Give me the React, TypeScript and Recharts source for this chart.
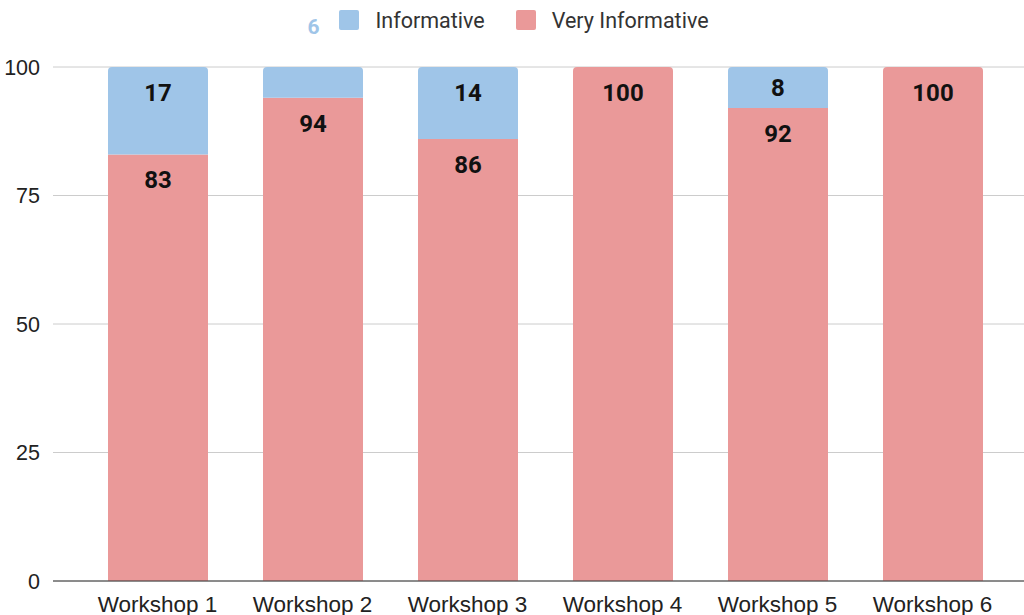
import { BarChart, Bar, XAxis, YAxis, CartesianGrid, Legend, LabelList, Cell } from "recharts";

const workshops = ["Workshop 1", "Workshop 2", "Workshop 3", "Workshop 4", "Workshop 5", "Workshop 6"];
const informative = [17, 6, 14, 0, 8, 0];
const veryInformative = [83, 94, 86, 100, 92, 100];
const yTicks = [0, 25, 50, 75, 100];

const blue = "#9fc5e8";
const pink = "#ea9999";

const data = workshops.map((name, i) => ({
  name,
  informative: informative[i],
  veryInformative: veryInformative[i],
}));

// labels that don't fit in their segment end up next to the legend
const squeezed = informative.filter((v) => v > 0 && v < 7);

function renderLabel(props: any) {
  const { x, y, width, height, value } = props;
  if (!value || height < 34) return null;
  const cy = y + Math.min(26, height / 2);
  return (
    <text
      x={x + width / 2}
      y={cy}
      textAnchor="middle"
      dominantBaseline="central"
      fontFamily="Roboto"
      fontWeight={700}
      fontSize={24}
      fill="#111"
    >
      {value}
    </text>
  );
}

function LegendContent() {
  const item = (color: string, label: string, gap: number) => (
    <div style={{ display: "flex", alignItems: "center", marginRight: gap }}>
      <div style={{ width: 20, height: 20, borderRadius: 2, background: color, marginRight: 16 }} />
      <span style={{ fontSize: 21.5, color: "#333" }}>{label}</span>
    </div>
  );
  return (
    <div
      style={{
        display: "flex",
        justifyContent: "center",
        alignItems: "center",
        height: 40,
        fontFamily: "Roboto, 'Liberation Sans', sans-serif",
        paddingRight: 8,
      }}
    >
      {squeezed.map((v) => (
        <span
          key={v}
          style={{ color: blue, fontWeight: 700, fontSize: 21, marginRight: 20, position: "relative", top: 7 }}
        >
          {v}
        </span>
      ))}
      {item(blue, "Informative", 31)}
      {item(pink, "Very Informative", 0)}
    </div>
  );
}

export default function App() {
  return (
    <div style={{ position: "absolute", left: 0, top: 0, background: "#fff" }}>
      <BarChart
        width={1024}
        height={615}
        data={data}
        margin={{ top: 27, right: 0, bottom: 0, left: 0 }}
        style={{ fontFamily: "'Liberation Sans', Arial, sans-serif" }}
      >
        <CartesianGrid vertical={false} stroke="#cccccc" />
        <XAxis
          dataKey="name"
          padding={{ left: 27, right: 14 }}
          tickLine={false}
          axisLine={{ stroke: "#333" }}
          tick={{ fontSize: 22.5, fill: "#222" }}
          tickMargin={9}
          height={34}
          interval={0}
        />
        <YAxis
          domain={[0, 100]}
          ticks={yTicks}
          axisLine={false}
          tickLine={false}
          tickMargin={7}
          width={53}
          tick={{ fontSize: 21.5, fill: "#222" }}
        />
        <Legend verticalAlign="top" content={<LegendContent />} wrapperStyle={{ top: 0, left: 0, width: 1024 }} />
        <Bar dataKey="veryInformative" name="Very Informative" stackId="a" fill={pink} barSize={100} isAnimationActive={false}>
          {data.map((d) => (
            <Cell key={d.name} fill={pink} radius={d.informative === 0 ? ([4, 4, 0, 0] as any) : 0} />
          ))}
          <LabelList dataKey="veryInformative" content={renderLabel} />
        </Bar>
        <Bar
          dataKey="informative"
          name="Informative"
          stackId="a"
          fill={blue}
          barSize={100}
          radius={[4, 4, 0, 0]}
          isAnimationActive={false}
        >
          <LabelList dataKey="informative" content={renderLabel} />
        </Bar>
      </BarChart>
    </div>
  );
}
